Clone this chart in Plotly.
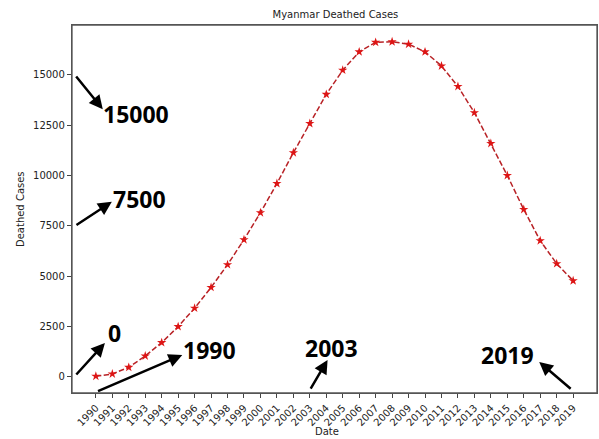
import plotly.graph_objects as go

years = list(range(1990, 2020))
deaths = [40, 150, 480, 1045, 1710, 2505, 3420, 4450, 5580, 6820,
          8160, 9610, 11140, 12590, 14040, 15240, 16150, 16620, 16650, 16530,
          16150, 15450, 14430, 13130, 11600, 10010, 8320, 6770, 5630, 4780]

title_text = "Myanmar Deathed Cases"
x_label = "Date"
y_label = "Deathed Cases"
y_ticks = [0, 2500, 5000, 7500, 10000, 12500, 15000]

# annotation labels: (text, tail_x, tail_y, head_x, head_y, text_x, text_y, anchor)
notes = [
    ("15000", 1988.73, 15000, 1990.42, 13300, 1990.3, 13050, "left"),
    ("7500", 1988.73, 7500, 1990.97, 8700, 1990.9, 8850, "left"),
    ("0", 1988.73, 50, 1990.55, 1690, 1990.6, 2200, "left"),
    ("1990", 1990.04, -730, 1995.25, 1090, 1995.15, 1340, "left"),
    ("2003", 2003.0, -650, 2004.08, 850, 2002.58, 1450, "left"),
    ("2019", 2018.94, -650, 2016.94, 750, 2016.72, 1080, "right"),
]

fig = go.Figure()
fig.add_trace(go.Scatter(
    x=years, y=deaths, mode="lines+markers",
    line=dict(color="#b82226", width=1.5, dash="5.5px,2.4px"),
    marker=dict(symbol="star", size=7, color="#dd1515", line=dict(width=0)),
    showlegend=False,
))

annotations = []
for text, tx, ty, hx, hy, lx, ly, anc in notes:
    annotations.append(dict(
        x=hx, y=hy, ax=tx, ay=ty, xref="x", yref="y", axref="x", ayref="y",
        text="", showarrow=True, arrowhead=2, arrowsize=1.1, arrowwidth=2.5,
        arrowcolor="black", standoff=0, startstandoff=0,
    ))
    annotations.append(dict(
        x=lx, y=ly, xref="x", yref="y", text=text, showarrow=False,
        xanchor=anc, yanchor="middle",
        font=dict(family="Open Sans", size=23, color="black", weight="bold"),
    ))

annotations.append(dict(
    x=0.485, y=-0.104, xref="paper", yref="paper", text=x_label, showarrow=False,
    xanchor="center", yanchor="middle",
    font=dict(family="DejaVu Sans", size=10, color="#222"),
))
annotations.append(dict(
    x=-0.099, y=0.5, xref="paper", yref="paper", text=y_label, showarrow=False,
    xanchor="center", yanchor="middle", textangle=-90,
    font=dict(family="DejaVu Sans", size=10, color="#222"),
))

axis_common = dict(
    showgrid=False, zeroline=False, showline=True, linecolor="#555", linewidth=1.3,
    mirror=True, ticks="outside", ticklen=4, tickwidth=1, tickcolor="#444",
    tickfont=dict(family="DejaVu Sans", size=10, color="#222"), automargin=False,
)

fig.update_layout(
    width=599, height=439,
    margin=dict(l=72, r=2, t=25, b=46),
    paper_bgcolor="white", plot_bgcolor="white",
    title=dict(text=title_text, x=0.56, xanchor="center", y=0.968, yanchor="middle",
               font=dict(family="DejaVu Sans", size=10, color="#222"), automargin=False),
    xaxis=dict(range=[1988.55, 2020.45], tickmode="array", tickvals=years,
               ticktext=[str(y) for y in years], tickangle=-45, **axis_common),
    yaxis=dict(range=[-795, 17483], tickmode="array", tickvals=y_ticks,
               ticktext=[str(v) for v in y_ticks], **axis_common),
    annotations=annotations,
    shapes=[dict(type="rect", xref="paper", yref="paper", x0=0, x1=1, y0=0, y1=1,
                 line=dict(color="#555", width=1.3), fillcolor="rgba(0,0,0,0)", layer="above")],
)

fig.write_html(
    "out.html",
    config={"displayModeBar": False},
    post_script="document.body.style.margin='0';document.body.style.overflow='hidden';",
)
